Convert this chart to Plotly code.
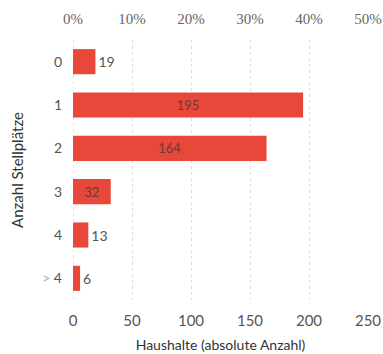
import plotly.graph_objects as go

categories = ["0", "1", "2", "3", "4", "> 4"]
households = [19, 195, 164, 32, 13, 6]
x_ticks = [0, 50, 100, 150, 200, 250]
pct_ticks = [0, 10, 20, 30, 40, 50]
pct_labels = ["0%", "10%", "20%", "30%", "40%", "50%"]

BAR = "#e8483a"
TXT = "#555555"
SANS = "Lato, 'DejaVu Sans', sans-serif"

# große Werte innen, kleine außen
positions = ["inside" if v >= 30 else "outside" for v in households]

# ">"-Zeichen etwas heller wie im Original
y_ticktext = [c.replace(">", "<span style='color:#aaaaaa'>&gt;</span>") for c in categories]

fig = go.Figure(
    go.Bar(
        x=households,
        y=categories,
        orientation="h",
        marker=dict(color=BAR, line=dict(width=0)),
        width=0.58,
        text=[str(v) for v in households],
        textposition=positions,
        insidetextanchor="middle",
        textfont=dict(family=SANS, size=12, color=TXT),
        insidetextfont=dict(family=SANS, size=13, color="#6b3a30"),
        outsidetextfont=dict(family=SANS, size=14, color=TXT),
        cliponaxis=False,
        hoverinfo="skip",
    )
)
# unsichtbare Spur für die Prozent-Achse oben
fig.add_trace(go.Scatter(x=[0, 50], y=[categories[0], categories[0]], xaxis="x2",
                         mode="markers", marker=dict(opacity=0), hoverinfo="skip", showlegend=False))

fig.update_layout(
    width=383,
    height=354,
    margin=dict(l=73, r=15, t=40, b=54),
    paper_bgcolor="white",
    plot_bgcolor="white",
    showlegend=False,
    xaxis=dict(
        range=[0, 250],
        tickvals=x_ticks,
        showgrid=True,
        gridcolor="#dddddd",
        griddash="dot",
        gridwidth=1,
        zeroline=False,
        showline=False,
        ticks="",
        automargin=False,
        ticklabelstandoff=10,
        tickfont=dict(family=SANS, size=15, color=TXT),
        title=dict(text="Haushalte (absolute Anzahl)", font=dict(family=SANS, size=14, color="#333333"), standoff=12),
    ),
    xaxis2=dict(
        range=[0, 50],
        overlaying="x",
        side="top",
        tickvals=pct_ticks,
        ticktext=pct_labels,
        showgrid=False,
        zeroline=False,
        ticks="",
        automargin=False,
        ticklabelstandoff=12,
        tickfont=dict(family="'Liberation Serif', serif", size=15, color="#666666"),
    ),
    yaxis=dict(
        categoryorder="array",
        categoryarray=categories,
        tickvals=categories,
        ticktext=y_ticktext,
        autorange="reversed",
        showgrid=False,
        zeroline=False,
        showline=False,
        ticks="",
        automargin=False,
        ticklabelstandoff=10,
        tickfont=dict(family=SANS, size=14, color=TXT),
        title=dict(text="Anzahl Stellplätze", font=dict(family=SANS, size=15, color="#333333"), standoff=14),
    ),
)

fig.add_vline(x=0, line=dict(color="#cccccc", width=1, dash="dot"), layer="below")

# Seitenrand des Browsers entfernen, damit die Grafik bei (0,0) beginnt
fig.write_html("out.html", config={"displayModeBar": False},
               post_script="document.body.style.margin='0px';")
